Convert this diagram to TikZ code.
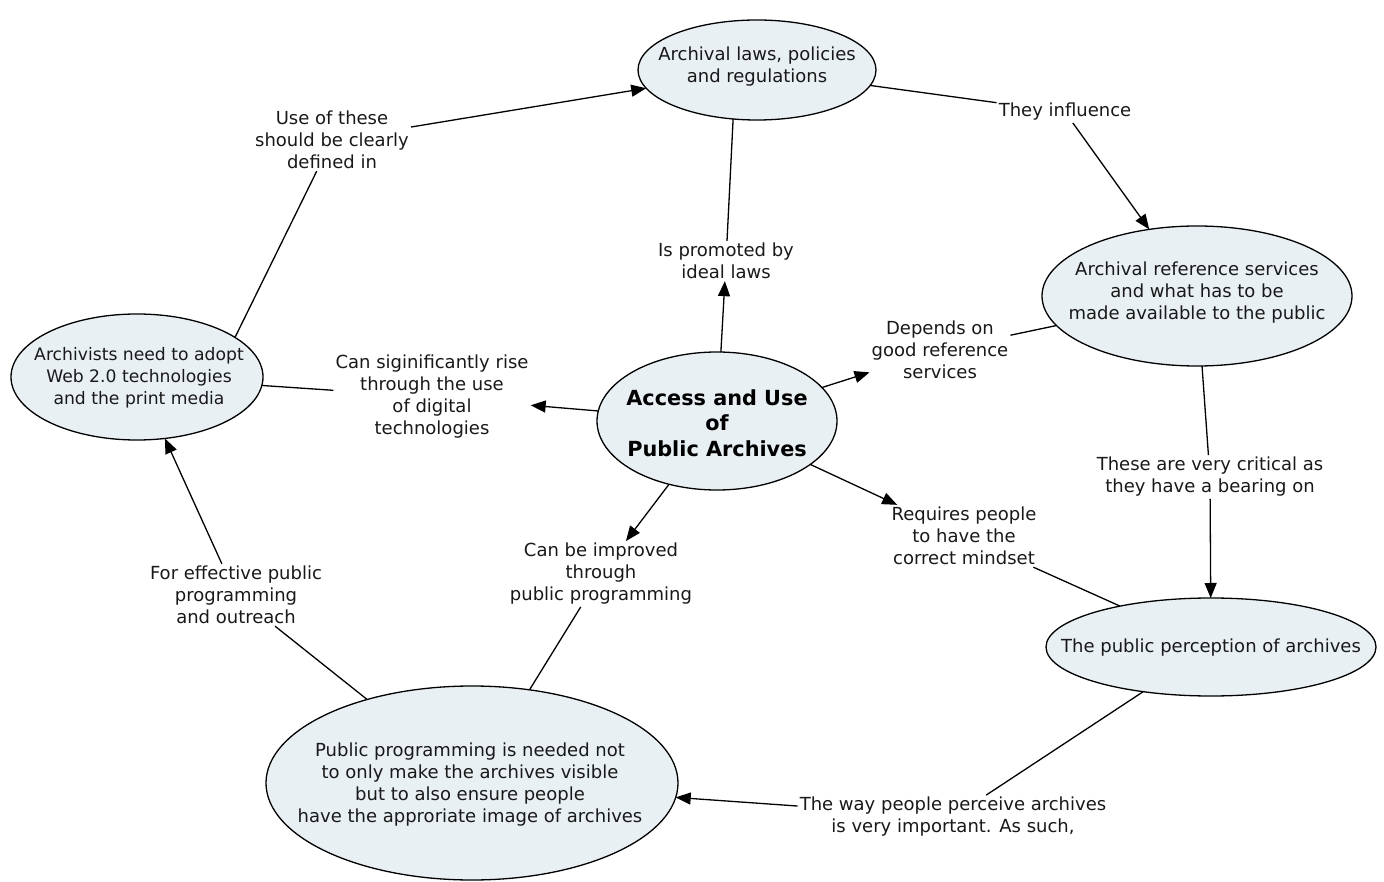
\documentclass[tikz,border=0pt]{standalone}
\usepackage{fontspec}
\setmainfont{DejaVu Sans}
\usetikzlibrary{shapes.geometric,arrows.meta}
\definecolor{conceptfill}{RGB}{233,240,244}
\definecolor{inktext}{RGB}{25,25,25}
\tikzset{
  concept/.style={ellipse, draw=black, line width=1.3pt, fill=conceptfill,
    inner sep=0pt, outer sep=0pt},
  concepttext/.style={align=center, inner sep=0pt, text=inktext,
    font=\fontsize{18}{22}\selectfont},
  maintext/.style={align=center, inner sep=0pt, text=black,
    font=\fontsize{20.8}{25.5}\selectfont\bfseries},
  linkphrase/.style={align=center, inner sep=2pt, text=inktext,
    font=\fontsize{18}{22}\selectfont},
  plainlink/.style={draw=black, line width=1.3pt},
  arrowlink/.style={plainlink, -{Triangle[length=15pt,width=12pt]}}
}
\begin{document}
\begin{tikzpicture}[x=1pt,y=-1pt]
\useasboundingbox[fill=white] (0,0) rectangle (1384,882);

% concept ellipses
\node[concept, minimum width=238pt, minimum height=100pt] (laws) at (757,70) {};
\node[concept, minimum width=310pt, minimum height=140pt] (ref) at (1197,296) {};
\node[concept, minimum width=252pt, minimum height=126pt] (arch) at (137,377) {};
\node[concept, minimum width=240pt, minimum height=138pt] (access) at (717,421) {};
\node[concept, minimum width=330pt, minimum height=98pt] (percep) at (1211,647) {};
\node[concept, minimum width=412pt, minimum height=194pt] (prog) at (472,783) {};

% concept texts
\node[concepttext] (lawsT) at (757,67) {Archival laws, policies\\and regulations};
\node[concepttext] (refT) at (1197,293) {Archival reference services\\and what has to be\\made available to the public};
\node[concepttext, font=\fontsize{17.2}{22}\selectfont] (archT) at (139,378) {Archivists need to adopt\\Web 2.0 technologies\\and the print media};
\node[maintext] (accessT) at (717,423) {Access and Use\\of\\Public Archives};
\node[concepttext] (percepT) at (1211,648) {The public perception of archives};
\node[concepttext] (progT) at (470,785) {Public programming is needed not\\to only make the archives visible\\but to also ensure people\\have the approriate image of archives};

% linking phrases
\node[linkphrase] (useof) at (332,140) {Use of these\\should be clearly\\defined in};
\node[linkphrase] (influence) at (1065,112) {They influence};
\node[linkphrase] (promoted) at (726,261) {Is promoted by\\ideal laws};
\node[linkphrase] (depends) at (940,350) {Depends on\\good reference\\services};
\node[linkphrase] (rise) at (432,397) {Can siginificantly rise\\through the use\\of digital\\technologies};
\node[linkphrase] (improved) at (601,574) {Can be improved\\through\\public programming};
\node[linkphrase] (requires) at (964,536) {Requires people\\to have the\\correct mindset};
\node[linkphrase] (critical) at (1210,477) {These are very critical as\\they have a bearing on};
\node[linkphrase] (effective) at (236,595) {For effective public\\programming\\and outreach};
\node[linkphrase] (way) at (953,817) {The way people perceive archives\\is very important. As such,};

% connections
\draw[plainlink] (laws) -- (influence);
\draw[arrowlink] (influence) -- (ref);

\draw[arrowlink] (access) -- (promoted);
\draw[plainlink] (promoted) -- (laws.244);

\draw[arrowlink] (access) -- (depends);
\draw[plainlink] (depends) -- (ref);

\draw[arrowlink] (access) -- (rise);
\draw[plainlink] (rise) -- (arch);

\draw[arrowlink] (access) -- (improved);
\draw[plainlink] (improved) -- (prog);

\draw[arrowlink] (access) -- (requires);
\draw[plainlink] (requires) -- (percep);

\draw[plainlink] (ref) -- (critical);
\draw[arrowlink] (critical) -- (percep);

\draw[plainlink] (percep) -- (way);
\draw[arrowlink] (way) -- (prog);

\draw[plainlink] (prog) -- (effective);
\draw[arrowlink] (effective) -- (arch);

\draw[plainlink] (arch.22) -- (useof);
\draw[arrowlink] (useof) -- (laws);
\end{tikzpicture}
\end{document}
